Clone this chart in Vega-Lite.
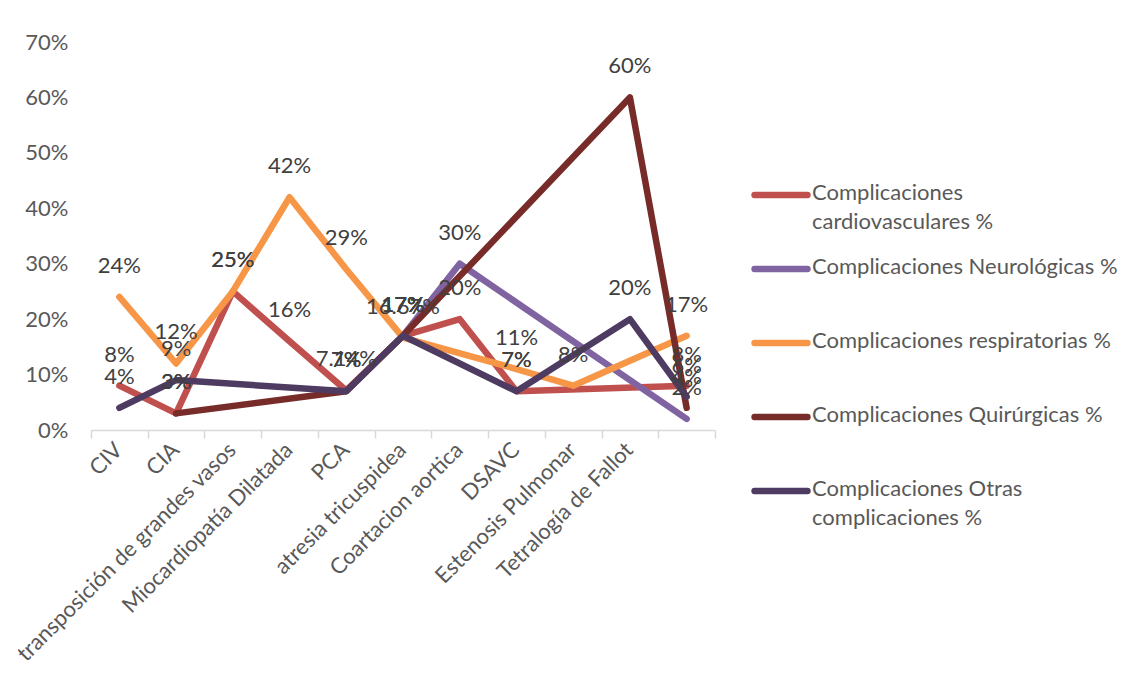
{
  "$schema": "https://vega.github.io/schema/vega-lite/v6.json",
  "width": 624,
  "height": 388,
  "autosize": {"type": "none"},
  "padding": {"left": 91, "top": 42, "right": 415, "bottom": 261},
  "background": "white",
  "config": {
    "view": {"stroke": null},
    "font": "Lato",
    "axis": {"labelFont": "Lato", "labelFontSize": 22, "labelColor": "#595959", "grid": false}
  },
  "data": {
    "values": [
      {"cat": "CIV", "serie": "Complicaciones cardiovasculares %", "v": 0.08},
      {"cat": "CIA", "serie": "Complicaciones cardiovasculares %", "v": 0.03},
      {"cat": "transposición de grandes vasos", "serie": "Complicaciones cardiovasculares %", "v": 0.25},
      {"cat": "Miocardiopatía Dilatada", "serie": "Complicaciones cardiovasculares %", "v": 0.16},
      {"cat": "PCA", "serie": "Complicaciones cardiovasculares %", "v": 0.0714},
      {"cat": "atresia tricuspidea", "serie": "Complicaciones cardiovasculares %", "v": 0.17},
      {"cat": "Coartacion aortica", "serie": "Complicaciones cardiovasculares %", "v": 0.20},
      {"cat": "DSAVC", "serie": "Complicaciones cardiovasculares %", "v": 0.07},
      {"cat": " ", "serie": "Complicaciones cardiovasculares %", "v": 0.08},
      {"cat": "atresia tricuspidea", "serie": "Complicaciones Neurológicas %", "v": 0.17},
      {"cat": "Coartacion aortica", "serie": "Complicaciones Neurológicas %", "v": 0.30},
      {"cat": " ", "serie": "Complicaciones Neurológicas %", "v": 0.02},
      {"cat": "CIV", "serie": "Complicaciones respiratorias %", "v": 0.24},
      {"cat": "CIA", "serie": "Complicaciones respiratorias %", "v": 0.12},
      {"cat": "transposición de grandes vasos", "serie": "Complicaciones respiratorias %", "v": 0.25},
      {"cat": "Miocardiopatía Dilatada", "serie": "Complicaciones respiratorias %", "v": 0.42},
      {"cat": "PCA", "serie": "Complicaciones respiratorias %", "v": 0.29},
      {"cat": "atresia tricuspidea", "serie": "Complicaciones respiratorias %", "v": 0.1667},
      {"cat": "DSAVC", "serie": "Complicaciones respiratorias %", "v": 0.11},
      {"cat": "Estenosis Pulmonar", "serie": "Complicaciones respiratorias %", "v": 0.08},
      {"cat": " ", "serie": "Complicaciones respiratorias %", "v": 0.17},
      {"cat": "CIA", "serie": "Complicaciones Quirúrgicas %", "v": 0.03},
      {"cat": "PCA", "serie": "Complicaciones Quirúrgicas %", "v": 0.07},
      {"cat": "atresia tricuspidea", "serie": "Complicaciones Quirúrgicas %", "v": 0.17},
      {"cat": "Tetralogía de Fallot", "serie": "Complicaciones Quirúrgicas %", "v": 0.60},
      {"cat": " ", "serie": "Complicaciones Quirúrgicas %", "v": 0.04},
      {"cat": "CIV", "serie": "Complicaciones Otras complicaciones %", "v": 0.04},
      {"cat": "CIA", "serie": "Complicaciones Otras complicaciones %", "v": 0.09},
      {"cat": "PCA", "serie": "Complicaciones Otras complicaciones %", "v": 0.07},
      {"cat": "atresia tricuspidea", "serie": "Complicaciones Otras complicaciones %", "v": 0.17},
      {"cat": "DSAVC", "serie": "Complicaciones Otras complicaciones %", "v": 0.07},
      {"cat": "Tetralogía de Fallot", "serie": "Complicaciones Otras complicaciones %", "v": 0.20},
      {"cat": " ", "serie": "Complicaciones Otras complicaciones %", "v": 0.06}
    ]
  },
  "encoding": {
    "x": {
      "field": "cat",
      "type": "nominal",
      "sort": null,
      "scale": {
        "type": "band",
        "paddingInner": 0,
        "paddingOuter": 0,
        "domain": ["CIV", "CIA", "transposición de grandes vasos", "Miocardiopatía Dilatada", "PCA", "atresia tricuspidea", "Coartacion aortica", "DSAVC", "Estenosis Pulmonar", "Tetralogía de Fallot", " "]
      },
      "axis": {
        "title": null,
        "labelAngle": -45,
        "labelAlign": "right",
        "labelBaseline": "middle",
        "labelPadding": 8,
        "labelOffset": -1,
        "labelLimit": 400,
        "labelFontSize": 22,
        "tickBand": "extent",
        "tickSize": 8,
        "tickColor": "#D9D9D9",
        "tickWidth": 1.5,
        "domainColor": "#D9D9D9",
        "domainWidth": 1.5
      }
    },
    "y": {
      "field": "v",
      "type": "quantitative",
      "scale": {"domain": [0, 0.7], "nice": false},
      "axis": {
        "title": null,
        "values": [0, 0.1, 0.2, 0.3, 0.4, 0.5, 0.6, 0.7],
        "format": ".0%",
        "domain": false,
        "ticks": false,
        "labelPadding": 23
      }
    },
    "color": {
      "field": "serie",
      "type": "nominal",
      "sort": null,
      "scale": {
        "domain": ["Complicaciones cardiovasculares %", "Complicaciones Neurológicas %", "Complicaciones respiratorias %", "Complicaciones Quirúrgicas %", "Complicaciones Otras complicaciones %"],
        "range": ["#C0504D", "#8064A2", "#F79646", "#772C2A", "#4D3B62"]
      }
    }
  },
  "layer": [
    {
      "mark": {"type": "line", "strokeWidth": 6.5, "strokeCap": "round", "strokeJoin": "round"},
      "encoding": {
        "color": {
          "field": "serie",
          "type": "nominal",
          "sort": null,
          "legend": {
            "title": null,
            "orient": "none",
            "legendX": 660,
            "legendY": 123,
            "padding": 0,
            "symbolType": "stroke",
            "symbolSize": 2800,
            "symbolStrokeWidth": 6.5,
            "labelFont": "Lato",
            "labelFontSize": 22,
            "labelColor": "#595959",
            "labelLimit": 400,
            "labelOffset": 1,
            "labelBaseline": "top",
            "rowPadding": 6,
            "labelExpr": "datum.label == 'Complicaciones cardiovasculares %' ? ['Complicaciones', 'cardiovasculares %'] : datum.label == 'Complicaciones Otras complicaciones %' ? ['Complicaciones Otras', 'complicaciones %'] : [datum.label, ' ']",
            "encode": {
              "symbols": {"update": {"strokeCap": {"value": "round"}}},
              "labels": {"update": {"lineHeight": {"value": 29}, "dy": {"value": -12}}}
            }
          }
        }
      }
    },
    {
      "mark": {"type": "text", "dy": -31, "fontSize": 22, "font": "Lato", "color": "#404040", "align": "center", "baseline": "middle"},
      "encoding": {
        "text": {"field": "v", "type": "quantitative", "format": ".4~%"},
        "color": {"value": "#404040"}
      }
    }
  ]
}
